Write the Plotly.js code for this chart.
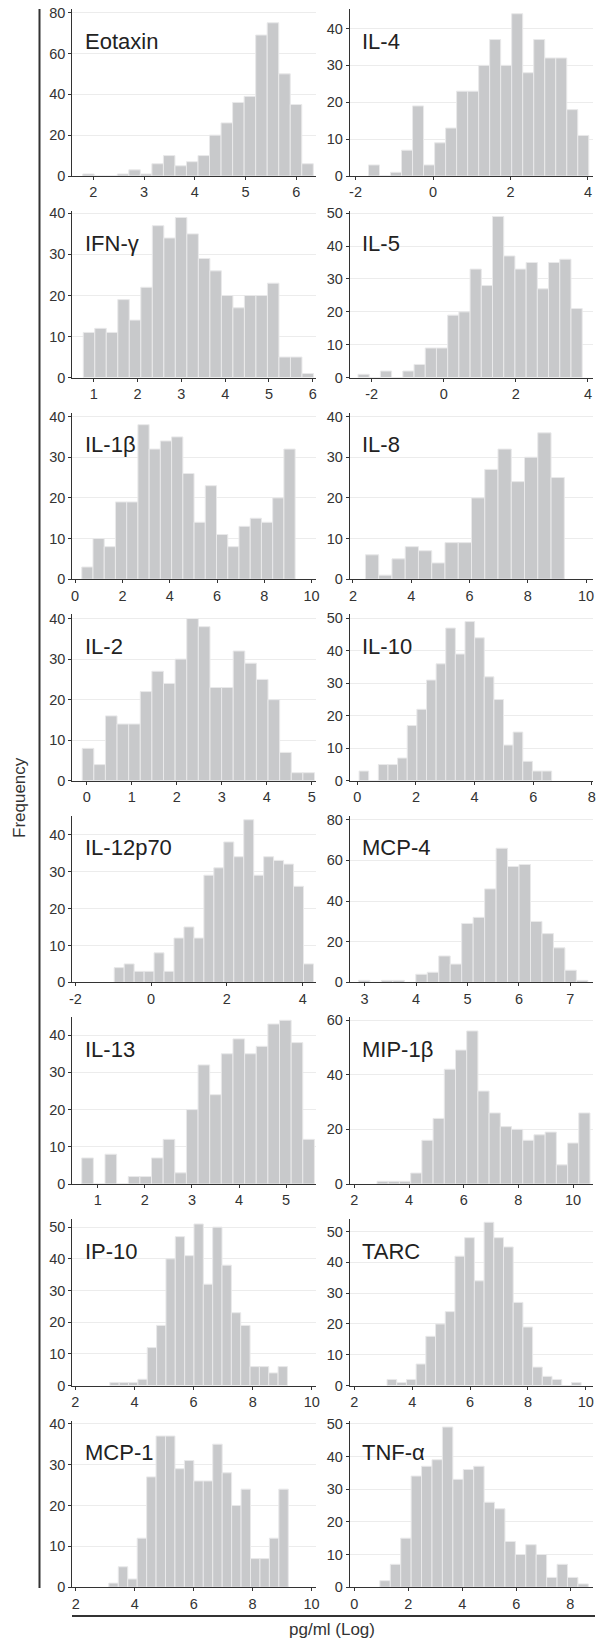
<!DOCTYPE html>
<html><head><meta charset="utf-8">
<script src="https://cdn.plot.ly/plotly-3.0.1.min.js"></script>
<style>html,body{margin:0;padding:0;background:#fff}</style>
</head><body><div id="chart" style="width:597px;height:1642px"></div>
<script>
// ---- data ----
const panelNames = ["Eotaxin","IL-4","IFN-γ","IL-5","IL-1β","IL-8","IL-2","IL-10","IL-12p70","MCP-4","IL-13","MIP-1β","IP-10","TARC","MCP-1","TNF-α"];

const eotaxinCounts = [1,0,0,1,3,1,6,10,5,7,10,20,26,36,39,69,75,50,35,6];
const il4Counts     = [3,0,1,7,19,3,9,13,23,23,30,37,30,44,28,37,32,32,18,11];
const ifngCounts    = [11,12,11,19,14,22,37,34,39,35,29,26,20,17,20,20,23,5,5,1];
const il5Counts     = [1,0,2,0,2,4,9,9,19,20,33,28,49,37,33,35,27,35,36,21];
const il1bCounts    = [3,10,8,19,19,38,32,34,35,26,14,23,11,8,13,15,14,20,32];
const il8Counts     = [6,1,5,8,7,4,9,9,20,27,32,24,30,36,25];
const il2Counts     = [8,4,16,14,14,22,27,24,30,40,38,23,23,32,29,25,20,7,2,2];
const il10Counts    = [3,0,5,5,7,17,22,31,36,47,39,49,44,32,25,11,15,6,3,3];
const il12Counts    = [4,5,3,3,8,3,12,15,12,29,31,38,34,44,29,34,33,32,26,5];
const mcp4Counts    = [1,0,1,1,0,4,5,13,9,29,32,46,66,57,58,30,24,17,6,1];
const il13Counts    = [7,0,8,0,2,2,7,12,3,20,32,24,35,39,35,37,43,44,38,12];
const mip1bCounts   = [1,1,1,4,16,24,42,49,56,34,26,21,20,16,18,19,7,15,26];
const ip10Counts    = [1,1,1,2,12,19,40,47,41,51,32,50,38,23,19,6,6,4,6];
const tarcCounts    = [2,1,2,7,16,20,24,42,48,34,53,48,45,27,19,6,3,2,0,1];
const mcp1Counts    = [1,5,2,12,27,37,37,29,31,26,26,35,28,20,24,7,7,12,24];
const tnfaCounts    = [2,7,15,34,37,39,49,33,36,37,26,24,14,10,13,10,3,7,3,1];

const allCounts = [eotaxinCounts, il4Counts, ifngCounts, il5Counts, il1bCounts, il8Counts,
  il2Counts, il10Counts, il12Counts, mcp4Counts, il13Counts, mip1bCounts,
  ip10Counts, tarcCounts, mcp1Counts, tnfaCounts];

// left edge of first bin and bin width (pg/ml, log)
const binStarts = [1.791,-1.665,0.760,-2.38,0.28,2.43,-0.10,0.06,-0.974,2.88,0.66,2.83,3.17,3.13,3.12,0.947];
const binWidths = [0.2272,0.2843,0.2628,0.311,0.475,0.455,0.258,0.3285,0.263,0.223,0.247,0.41,0.316,0.3355,0.3205,0.386];

const xRanges = [[1.586,6.394],[-2.15,4.13],[0.51,6.08],[-2.61,4.14],[-0.12,10.2],[1.89,10.24],
  [-0.32,5.10],[-0.26,8.04],[-2.08,4.36],[2.71,7.44],[0.46,5.64],[1.83,10.73],
  [1.90,10.15],[1.84,10.25],[1.88,10.16],[-0.17,8.84]];
const yMax = [81.6,45.2,40.6,50.7,41.0,41.0,41.1,51.3,45.1,82.0,44.8,61,52.6,54.1,40.8,51.0];

const xTicks = [[2,3,4,5,6],[-2,0,2,4],[1,2,3,4,5,6],[-2,0,2,4],[0,2,4,6,8,10],[2,4,6,8,10],
  [0,1,2,3,4,5],[0,2,4,6,8],[-2,0,2,4],[3,4,5,6,7],[1,2,3,4,5],[2,4,6,8,10],
  [2,4,6,8,10],[2,4,6,8,10],[2,4,6,8,10],[0,2,4,6,8]];
const yTicks = [[0,20,40,60,80],[0,10,20,30,40],[0,10,20,30,40],[0,10,20,30,40,50],
  [0,10,20,30,40],[0,10,20,30,40],[0,10,20,30,40],[0,10,20,30,40,50],
  [0,10,20,30,40],[0,20,40,60,80],[0,10,20,30,40],[0,20,40,60],
  [0,10,20,30,40,50],[0,10,20,30,40,50],[0,10,20,30,40],[0,10,20,30,40,50]];

const yTitle = "Frequency";
const xTitle = "pg/ml (Log)";

// ---- layout geometry (pixels) ----
const W = 597, H = 1642;
const colX = [[72.3,316.3],[349.7,593]];
const zero0 = 176, rowPitch = 201.6, plotH = 166.7;
const FONT = "Liberation Sans, Arial, Helvetica, sans-serif";

const traces = [];
const layout = {
  width: W, height: H,
  margin: {l:0, r:0, t:0, b:0},
  paper_bgcolor: "#ffffff", plot_bgcolor: "#ffffff",
  showlegend: false,
  font: {family: FONT, color: "#333333", size: 14},
  annotations: [], shapes: []
};

allCounts.forEach((counts, i) => {
  const row = Math.floor(i/2), col = i % 2;
  const sfx = i === 0 ? "" : String(i+1);
  const xs = counts.map((c, k) => binStarts[i] + (k + 0.5) * binWidths[i]);
  traces.push({
    type: "bar", x: xs, y: counts, width: binWidths[i],
    xaxis: "x" + sfx, yaxis: "y" + sfx,
    marker: {color: "#c8c9cb", line: {color: "#e9e9ea", width: 1}},
    hoverinfo: "skip"
  });
  const zero = zero0 + rowPitch * row;
  const top = zero - plotH;
  layout["xaxis" + sfx] = {
    domain: [colX[col][0]/W, colX[col][1]/W],
    anchor: "y" + sfx, range: xRanges[i],
    tickmode: "array", tickvals: xTicks[i], ticktext: xTicks[i].map(v => String(v)),
    ticks: "outside", ticklen: 3, tickcolor: "#333", tickwidth: 1,
    showline: true, linecolor: "#333", linewidth: 1,
    showgrid: false, zeroline: false,
    tickfont: {family: FONT, size: 14.5, color: "#333"}, automargin: false, fixedrange: true
  };
  layout["yaxis" + sfx] = {
    domain: [1 - zero/H, 1 - top/H],
    anchor: "x" + sfx, range: [0, yMax[i]],
    tickmode: "array", tickvals: yTicks[i], ticktext: yTicks[i].map(v => String(v)),
    ticks: "outside", ticklen: 3, tickcolor: "#333", tickwidth: 1,
    showline: true, linecolor: "#333", linewidth: 1,
    showgrid: true, gridcolor: "#ececec", gridwidth: 1, zeroline: false,
    tickfont: {family: FONT, size: 14.5, color: "#333"}, automargin: false, fixedrange: true
  };
  layout.annotations.push({
    xref: "paper", yref: "paper",
    x: (colX[col][0] + 10.5)/W, y: 1 - (zero - 134.5)/H,
    xanchor: "left", yanchor: "middle", showarrow: false,
    text: panelNames[i], font: {family: FONT, size: 22, color: "#222"}
  });
});

layout.annotations.push({
  xref: "paper", yref: "paper", x: 19/W, y: 1 - 798/H,
  xanchor: "center", yanchor: "middle", showarrow: false, textangle: -90,
  text: yTitle, font: {family: FONT, size: 17, color: "#333"}
});
layout.annotations.push({
  xref: "paper", yref: "paper", x: 332/W, y: 1 - 1629/H,
  xanchor: "center", yanchor: "middle", showarrow: false,
  text: xTitle, font: {family: FONT, size: 17, color: "#333"}
});
layout.shapes.push({type: "line", xref: "paper", yref: "paper",
  x0: 39.5/W, x1: 39.5/W, y0: 1 - 9/H, y1: 1 - 1588/H,
  line: {color: "#333", width: 2}});
layout.shapes.push({type: "line", xref: "paper", yref: "paper",
  x0: 72/W, x1: 595/W, y0: 1 - 1616/H, y1: 1 - 1616/H,
  line: {color: "#333", width: 2}});

Plotly.newPlot("chart", traces, layout, {staticPlot: true, displayModeBar: false});
</script>
</body></html>
